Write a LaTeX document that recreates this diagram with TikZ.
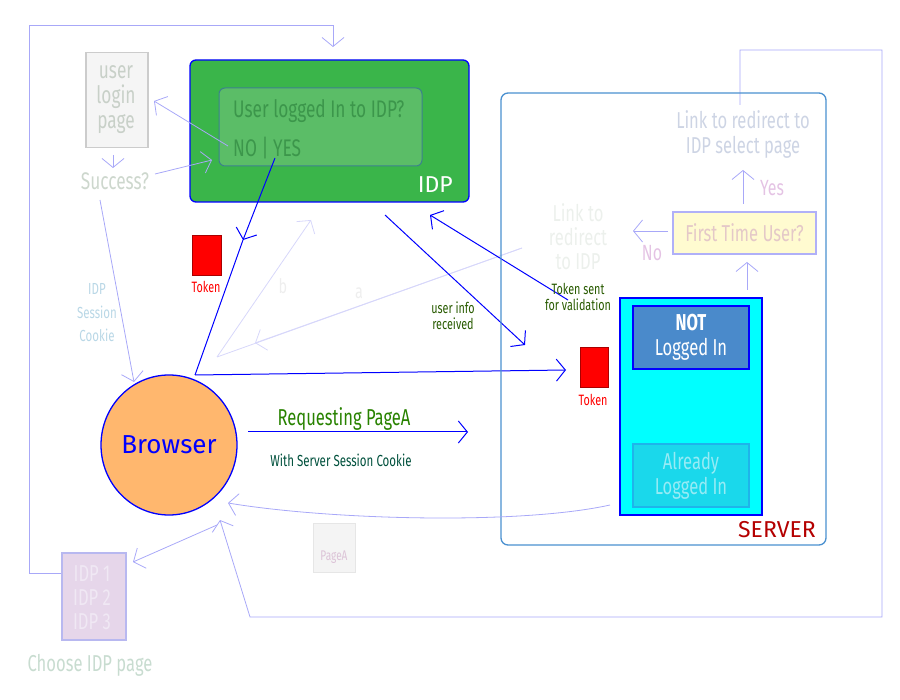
\documentclass[tikz,border=0pt]{standalone}
\usepackage{fontspec}
\setmainfont{Fira Sans}[FakeStretch=0.72]
\newfontfamily\plainsans{Fira Sans}
\usetikzlibrary{arrows.meta,shapes.geometric}
\definecolor{idpgreen}{HTML}{3AB54A}
\definecolor{innergreen}{HTML}{5BBD67}
\definecolor{faintblue}{HTML}{A8A8F8}
\definecolor{srvblue}{HTML}{4A90D0}
\definecolor{aqua}{HTML}{00FFFF}
\tikzset{
  x=1pt,y=-1pt,
  ar/.style={-{Straight Barb[length=9pt,width=22pt]}},
  faint/.style={draw=faintblue,line width=0.8pt},
  strong/.style={draw=blue,line width=1pt},
  t/.style={inner sep=0pt,font=\fontsize{#1}{#1}\selectfont},
}
\begin{document}
\begin{tikzpicture}
\useasboundingbox (0,0) rectangle (900,700);
% frames
\draw[faint,ar] (29,573) -- (29,25) -- (333,25) -- (333,47);
\draw[faint] (29,573) -- (62,573);
\draw[faint,ar] (740,105) -- (740,50) -- (882,50) -- (882,617) -- (250,617) -- (220,520);
% IDP
\node[draw=blue,line width=1.3pt,fill=idpgreen,rounded corners=6pt,minimum width=279,minimum height=142] (idp) at (329.5,131) {};
\node[t=23,text=white,anchor=east] (idpl) at (453,185) {\plainsans IDP};
\node[draw={rgb,255:red,60;green,130;blue,140},line width=1pt,fill=innergreen,rounded corners=6pt,minimum width=203,minimum height=78] (inner) at (320.5,127) {};
\node[t=24,text={rgb,255:red,60;green,150;blue,75},anchor=west] (q) at (233,111) {User logged In to IDP?};
\node[t=24,text={rgb,255:red,60;green,150;blue,75},anchor=west] (ny) at (233,148) {NO | YES};
% login page
\node[draw={rgb,255:red,204;green,204;blue,204},line width=1.2pt,fill={rgb,255:red,245;green,245;blue,245},minimum width=62,minimum height=95] (login) at (117,100) {};
\node[t=24,text={rgb,255:red,200;green,208;blue,200},align=center,font=\fontsize{24}{25}\selectfont] (loginl) at (116,100) {user\\login\\page};
\node[t=24,text={rgb,255:red,205;green,215;blue,205}] (succ) at (115,181) {Success?};
\draw[faint,ar] (113,155) -- (113,168);
\draw[faint,ar] (155,174) -- (212,160);
\draw[faint,ar] (228,146) -- (154,101);
\node[t=16,text={rgb,255:red,185;green,215;blue,230},align=center,font=\fontsize{16}{23.5}\selectfont] (cookie) at (97,313) {IDP\\Session\\Cookie};
% browser
\node[draw=blue,line width=1.3pt,fill={rgb,255:red,255;green,183;blue,110},ellipse,minimum width=136,minimum height=140] (br) at (169,445) {};
\node[t=26,text=blue] (brl) at (169,445) {\plainsans Browser};
\draw[faint,ar] (100,200) -- (134,382);
% tokens
\node[draw={rgb,255:red,170;green,0;blue,0},fill=red,line width=1pt,minimum width=29,minimum height=40,inner sep=0] (tok1) at (206.5,256) {};
\node[t=15,text=red] (tok1l) at (206,287) {Token};
\node[draw={rgb,255:red,170;green,0;blue,0},fill=red,line width=1pt,minimum width=28,minimum height=40,inner sep=0] (tok2) at (594,368) {};
\node[t=15,text=red] (tok2l) at (593,400) {Token};
% YES -> browser -> server
\coordinate (yes) at (275,158);
\coordinate (bend) at (195,375);
\coordinate (mid) at (243,240);
\draw[strong,ar] (yes) -- (mid);
\draw[strong] (mid) -- (bend);
\draw[strong,ar] (bend) -- (566,370);
% faint a b
\coordinate (ab) at (217,357);
\draw[draw={rgb,255:red,215;green,215;blue,250},line width=0.8pt,ar] (ab) -- (311,220);
\draw[draw={rgb,255:red,215;green,215;blue,250},line width=0.8pt] (522,248) -- (ab);
\draw[draw={rgb,255:red,215;green,215;blue,250},line width=0.8pt,ar] (522,248) -- (255,343);
\node[t=20,text={rgb,255:red,238;green,238;blue,238}] (bl) at (283,286) {b};
\node[t=20,text={rgb,255:red,238;green,238;blue,238}] (al) at (359,293) {a};
% IDP <-> server
\draw[strong,ar] (385,215) -- (525,345);
\draw[strong,ar] (568,300) -- (430,215);
\node[t=15,text={rgb,255:red,40;green,90;blue,0},align=center,font=\fontsize{15}{16}\selectfont] (ui) at (453,316) {user info\\received};
\node[t=15,text={rgb,255:red,40;green,90;blue,0},align=center,font=\fontsize{15}{16}\selectfont] (ts) at (578,297) {Token sent\\for validation};
% server
\node[draw=srvblue,line width=1.3pt,rounded corners=7pt,minimum width=325,minimum height=452] (srv) at (663.5,319) {};
\node[t=23,text={rgb,255:red,180;green,0;blue,0},anchor=east] (srvl) at (816,530) {\plainsans SERVER};
\node[draw=blue,line width=1.2pt,fill=aqua,minimum width=142,minimum height=217] (cy) at (691,406.5) {};
\node[draw=blue,line width=1.2pt,fill={rgb,255:red,74;green,138;blue,203},minimum width=116,minimum height=63,text=white,align=center,font=\bfseries\fontsize{23}{25}\selectfont] (notl) at (691,337.5) {NOT\\\mdseries Logged In};
\node[draw={rgb,255:red,30;green,180;blue,235},line width=1.2pt,fill={rgb,255:red,26;green,216;blue,235},minimum width=116,minimum height=63,text={rgb,255:red,150;green,235;blue,245},align=center,font=\fontsize{23}{25}\selectfont] (al2) at (691,475.5) {Already\\Logged In};
\node[draw={rgb,255:red,176;green,176;blue,248},line width=1.2pt,fill={rgb,255:red,255;green,251;blue,208},minimum width=143,minimum height=42,inner sep=0,text={rgb,255:red,228;green,200;blue,200},font=\fontsize{23}{23}\selectfont] (ftu) at (744.5,233) {First Time User?};
\draw[faint,ar] (747,290) -- (747,262);
\draw[faint,ar] (743,204) -- (743,170);
\draw[faint,ar] (668,231) -- (633,231);
\node[t=22,text={rgb,255:red,228;green,195;blue,228}] (yesl) at (772,188) {Yes};
\node[t=22,text={rgb,255:red,228;green,195;blue,228}] (nol) at (652,253) {No};
\node[text={rgb,255:red,205;green,212;blue,228},align=center,font=\fontsize{23}{25}\selectfont,inner sep=0] (link1) at (743,134) {Link to redirect to\\IDP select page};
\node[text={rgb,255:red,236;green,240;blue,236},align=center,font=\fontsize{23}{24}\selectfont,inner sep=0] (link2) at (578,237) {Link to\\redirect\\to IDP};
% request
\draw[strong,ar] (248,432) -- (468,432);
\node[t=23,text={rgb,255:red,40;green,130;blue,0}] (req) at (344,419) {Requesting PageA};
\node[t=16,text={rgb,255:red,0;green,80;blue,60}] (wsc) at (341,460) {With Server Session Cookie};
% return
\draw[faint,ar] (610,505) .. controls (520,525) and (330,520) .. (228,503);
% pagea
\node[draw={rgb,255:red,230;green,230;blue,230},line width=1pt,fill={rgb,255:red,244;green,244;blue,244},minimum width=42,minimum height=49] (pa) at (334,547.5) {};
\node[t=14,text={rgb,255:red,220;green,195;blue,215}] (pal) at (334,557) {PageA};
% idp list
\node[draw={rgb,255:red,184;green,184;blue,240},line width=1.2pt,fill={rgb,255:red,230;green,214;blue,234},minimum width=64,minimum height=87] (il) at (94,596.5) {};
\node[text={rgb,255:red,240;green,232;blue,244},align=center,font=\fontsize{23}{24}\selectfont,inner sep=0] (ill) at (92,598) {IDP 1\\IDP 2\\IDP 3};
\draw[faint,ar] (217,525) -- (133,562);
\node[t=23,text={rgb,255:red,200;green,220;blue,208}] (ch) at (90,665) {Choose IDP page};
\end{tikzpicture}
\end{document}
